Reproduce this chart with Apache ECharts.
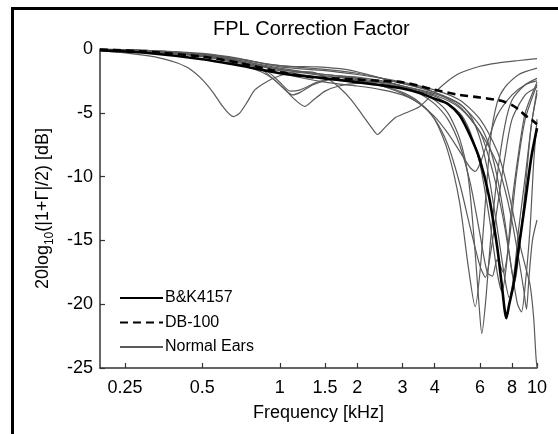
<!DOCTYPE html>
<html>
<head>
<meta charset="utf-8">
<script src="https://cdn.jsdelivr.net/npm/echarts@6/dist/echarts.min.js"></script>
<style>html,body{margin:0;padding:0;background:#fff;}#c{width:558px;height:434px;}</style>
</head>
<body>
<div id="c"></div>
<script>
// ---- data (frequency in kHz, value in dB) ----
const xTicks = [0.25, 0.5, 1, 1.5, 2, 3, 4, 6, 8, 10];
const yTicks = [0, -5, -10, -15, -20, -25];

const bk4157 = [[0.2,-0.1],[0.3,-0.3],[0.5,-0.8],[0.7,-1.3],[1,-1.9],[1.5,-2.3],[2,-2.6],[2.5,-2.85],[3,-3.1],[3.5,-3.45],[4,-3.9],[4.5,-4.3],[5,-5.2],[5.5,-6.8],[6,-8.7],[6.5,-11.5],[7,-15.5],[7.3,-18.5],[7.6,-21.1],[7.8,-20.0],[8.1,-18.5],[8.5,-15.5],[9,-12],[9.5,-8.5],[10,-6.2]];
const db100 = [[0.2,-0.05],[0.3,-0.2],[0.5,-0.6],[0.7,-1.1],[1,-1.8],[1.3,-2.2],[1.6,-2.3],[2,-2.4],[2.5,-2.5],[3,-2.6],[3.5,-2.9],[4,-3.2],[5,-3.6],[6,-3.8],[7,-4.0],[7.5,-4.15],[8,-4.4],[8.5,-4.75],[9,-5.2],[9.5,-5.5],[10,-5.9]];

const ear1 = [[0.2,-0.15],[0.25,-0.3],[0.3,-0.5],[0.35,-0.75],[0.4,-1.1],[0.45,-1.6],[0.5,-2.4],[0.55,-3.4],[0.6,-4.5],[0.66,-5.3],[0.7,-5.0],[0.75,-4.1],[0.8,-3.2],[0.9,-2.5],[1.0,-2.1],[1.15,-1.8],[1.3,-1.8],[1.5,-2.2],[1.7,-3.0],[1.9,-4.0],[2.1,-5.2],[2.3,-6.3],[2.4,-6.7],[2.55,-6.2],[2.8,-5.4],[3.1,-5.0],[3.5,-4.5],[4.0,-3.4],[4.5,-2.5],[5,-1.9],[6,-1.35],[7,-1.1],[8.5,-0.9],[10,-0.75]];
const ear2 = [[0.2,-0.05],[0.3,-0.2],[0.5,-0.6],[0.7,-1.2],[0.85,-1.8],[0.95,-2.4],[1.05,-3.2],[1.15,-4.0],[1.25,-4.5],[1.35,-4.0],[1.5,-3.3],[1.7,-2.9],[2,-2.7],[2.5,-2.8],[3,-3.0],[3.5,-3.4],[4,-4.0],[4.5,-5.0],[5,-7.0],[5.4,-10],[5.7,-15],[5.95,-20],[6.1,-22.3],[6.3,-20],[6.6,-15],[7,-10],[7.5,-6],[8,-4],[9,-2.8],[10,-2.3]];
const ear3 = [[0.2,-0.05],[0.3,-0.15],[0.5,-0.5],[0.7,-1.0],[0.85,-1.6],[0.95,-2.4],[1.05,-3.2],[1.12,-3.6],[1.2,-3.4],[1.35,-2.8],[1.6,-2.4],[2,-2.5],[2.5,-2.9],[3,-3.4],[3.5,-4.2],[4,-5.5],[4.5,-8],[5,-12],[5.4,-17],[5.75,-20.2],[6,-17.5],[6.3,-12],[6.6,-7],[7,-4.2],[7.5,-3],[8.5,-2],[10,-1.5]];
const ear4 = [[0.2,-0.05],[0.3,-0.15],[0.5,-0.5],[0.7,-1.0],[0.9,-1.8],[1.0,-2.6],[1.1,-3.3],[1.2,-3.2],[1.4,-2.6],[1.7,-2.2],[2,-2.3],[2.5,-2.9],[3,-3.5],[3.5,-4.3],[4,-5.3],[4.5,-6.6],[5,-8],[5.5,-9.3],[5.75,-9.6],[6,-9],[6.5,-7],[7,-5.2],[8,-3.6],[9,-2.8],[10,-2.5]];
const ear5 = [[0.2,0],[0.3,-0.1],[0.5,-0.35],[0.7,-0.75],[0.9,-1.2],[1.1,-1.35],[1.4,-1.4],[1.8,-1.6],[2.2,-2.0],[2.6,-2.4],[3,-2.7],[3.5,-3.0],[4,-3.4],[5,-4.5],[6,-6.5],[6.5,-8.5],[7,-11],[7.5,-14],[8,-17.5],[8.4,-20],[8.7,-20.6],[9,-18.5],[9.4,-14],[9.7,-9],[10,-5.5]];
const ear6 = [[0.2,0],[0.3,-0.1],[0.5,-0.4],[0.7,-0.8],[1,-1.4],[1.5,-1.7],[2,-2.0],[2.5,-2.3],[3,-2.6],[4,-3.2],[5,-4.0],[6,-5.5],[7,-8.0],[7.5,-10],[8,-12.5],[8.5,-15],[9,-17],[9.4,-18.5],[9.7,-21],[9.9,-24],[10,-25]];
const ear7 = [[0.2,-0.05],[0.3,-0.2],[0.5,-0.5],[0.7,-0.9],[1,-1.5],[1.5,-2.0],[2,-2.2],[2.5,-2.5],[3,-2.9],[4,-3.6],[5,-4.6],[6,-6.5],[7,-9],[7.5,-11],[8,-13.5],[8.5,-16.5],[8.9,-19],[9.1,-20.4],[9.3,-18],[9.6,-15],[10,-13.4]];
const ear8 = [[0.2,-0.05],[0.3,-0.2],[0.5,-0.55],[0.7,-1.1],[1,-1.9],[1.5,-2.6],[2,-2.9],[2.5,-3.2],[3,-3.6],[3.5,-4.3],[4,-5.5],[4.5,-7.5],[5,-10.5],[5.5,-14],[6,-17],[6.3,-17.9],[6.6,-16],[7,-12.5],[7.5,-8.5],[8,-5.5],[9,-3.6],[10,-3.0]];
const ear9 = [[0.2,-0.05],[0.3,-0.15],[0.5,-0.45],[0.7,-0.9],[1,-1.6],[1.5,-2.1],[2,-2.4],[2.5,-2.7],[3,-3.0],[4,-3.7],[5,-5.0],[5.5,-6.5],[6,-9],[6.5,-13],[7,-17.5],[7.3,-19],[7.6,-17],[8,-12],[8.5,-8],[9,-5],[10,-2.6]];
const ear10 = [[0.2,0],[0.3,-0.1],[0.5,-0.4],[0.7,-0.8],[1,-1.3],[1.5,-1.6],[2,-1.9],[2.5,-2.3],[3,-2.7],[4,-3.4],[5,-4.3],[6,-6],[6.5,-7.5],[7,-10],[7.5,-13.5],[8,-17.5],[8.2,-18.2],[8.5,-16],[9,-11],[9.5,-6],[10,-3.5]];
const ear11 = [[0.2,-0.05],[0.3,-0.2],[0.5,-0.5],[0.7,-1.0],[1,-1.7],[1.5,-2.3],[2,-2.6],[2.5,-2.6],[3,-2.9],[3.5,-3.5],[4,-4.3],[4.5,-5.5],[5,-7.5],[5.5,-10.5],[6,-14.5],[6.4,-17.5],[6.7,-17.8],[7.0,-16.5],[7.4,-17.5],[7.8,-15],[8.3,-10],[9,-5.5],[10,-2.8]];
const ear12 = [[0.2,-0.05],[0.3,-0.15],[0.5,-0.5],[0.7,-1.0],[1,-1.6],[1.5,-2.0],[2,-2.3],[2.5,-2.6],[3,-2.9],[4,-3.5],[5,-4.3],[5.5,-5.2],[6,-7],[6.5,-10],[7,-14],[7.5,-18],[7.8,-19.5],[8.1,-18],[8.5,-14],[9,-10],[9.5,-6],[10,-3.2]];
const normalEars = [ear1, ear2, ear3, ear4, ear5, ear6, ear7, ear8, ear9, ear10, ear11, ear12];

// ---- chart ----
const FONT = 'Liberation Sans, Arial, Helvetica, sans-serif';
const toLog = pts => pts.map(p => [Math.log10(p[0]), p[1]]);
const tickLogs = xTicks.map(f => Math.log10(f));

const series = [];
normalEars.forEach(e => {
  series.push({
    name: 'Normal Ears', type: 'line', data: toLog(e), symbol: 'none', showSymbol: false, smooth: 0.25,
    lineStyle: { color: '#5a5a5a', width: 1.2 }, itemStyle: { color: '#5a5a5a' }, z: 2, silent: true
  });
});
series.push({
  name: 'B&K4157', type: 'line', data: toLog(bk4157), symbol: 'none', showSymbol: false, smooth: 0.25,
  lineStyle: { color: '#000', width: 2.6 }, itemStyle: { color: '#000' }, z: 4, silent: true
});
series.push({
  name: 'DB-100', type: 'line', data: toLog(db100), symbol: 'none', showSymbol: false, smooth: 0.25,
  lineStyle: { color: '#000', width: 2.6, type: [8, 5] }, itemStyle: { color: '#000' }, z: 5, silent: true
});

const chart = echarts.init(document.getElementById('c'), null, { renderer: 'canvas' });
chart.setOption({
  animation: false,
  backgroundColor: '#fff',
  textStyle: { fontFamily: FONT },
  title: {
    text: 'FPL Correction Factor', left: 213, top: 19, padding: 0,
    textStyle: { fontFamily: FONT, fontSize: 20, fontWeight: 'normal', color: '#000' }
  },
  legend: {
    data: ['B&K4157', 'DB-100', 'Normal Ears'],
    orient: 'vertical', left: 119, top: 290, padding: 0,
    itemWidth: 43, itemHeight: 14, itemGap: 8.5,
    itemStyle: { opacity: 0, borderWidth: 0 },
    textStyle: { fontFamily: FONT, fontSize: 16, color: '#000', padding: [0, 0, 0, -3] },
    selectedMode: false
  },
  grid: { left: 100, right: 21, top: 49, bottom: 66, containLabel: false },
  xAxis: {
    type: 'value', min: Math.log10(0.2), max: 1,
    name: 'Frequency [kHz]', nameLocation: 'middle', nameGap: 36,
    nameTextStyle: { fontFamily: FONT, fontSize: 18, color: '#000' },
    axisLine: { show: true, onZero: false, lineStyle: { color: '#333', width: 1.5 } },
    axisTick: { show: true, inside: true, length: 5, customValues: tickLogs, lineStyle: { color: '#333', width: 1.2 } },
    axisLabel: {
      customValues: tickLogs, margin: 11, fontFamily: FONT, fontSize: 18, color: '#000',
      formatter: v => {
        for (let i = 0; i < xTicks.length; i++) if (Math.abs(tickLogs[i] - v) < 1e-6) return String(xTicks[i]);
        return '';
      }
    },
    splitLine: { show: false }
  },
  yAxis: {
    type: 'value', min: -25, max: 0, interval: 5,
    name: '20log{sub|10}(|1+Γ|/2) [dB]', nameLocation: 'middle', nameGap: 40, nameRotate: 90,
    nameTextStyle: {
      fontFamily: FONT, fontSize: 18, color: '#000',
      rich: { sub: { fontFamily: FONT, fontSize: 12, color: '#000', verticalAlign: 'bottom', lineHeight: 26 } }
    },
    axisLine: { show: true, onZero: false, lineStyle: { color: '#333', width: 1.5 } },
    axisTick: { show: true, inside: true, length: 5, lineStyle: { color: '#333', width: 1.2 } },
    axisLabel: { margin: 7, fontFamily: FONT, fontSize: 18, color: '#000',
      formatter: v => (yTicks.indexOf(v) >= 0 ? String(v) : '') },
    splitLine: { show: false }
  },
  graphic: [
    { type: 'line', silent: true, z: 100, shape: { x1: 12.5, y1: 7, x2: 12.5, y2: 440 }, style: { stroke: '#000', lineWidth: 3 } },
    { type: 'line', silent: true, z: 100, shape: { x1: 11, y1: 8.5, x2: 560, y2: 8.5 }, style: { stroke: '#000', lineWidth: 3 } }
  ],
  series: series
});
</script>
</body>
</html>
